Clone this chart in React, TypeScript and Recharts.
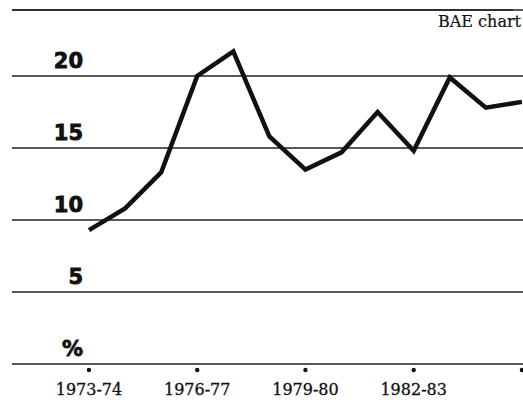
import React from "react";
import { LineChart, Line, XAxis, YAxis, CartesianGrid, ReferenceLine } from "recharts";

const years = [
  "1973-74", "1974-75", "1975-76", "1976-77", "1977-78", "1978-79", "1979-80",
  "1980-81", "1981-82", "1982-83", "1983-84", "1984-85", "1985-86",
];
const values = [9.3, 10.8, 13.3, 20.0, 21.7, 15.8, 13.5, 14.7, 17.5, 14.8, 19.9, 17.8, 18.2];
const xTickIndexes = [0, 3, 6, 9, 12];
const labelledXTicks = ["1973-74", "1976-77", "1979-80", "1982-83"];
const yTicks = [0, 5, 10, 15, 20];
const yTickLabels = ["%", "5", "10", "15", "20"];

const data = years.map((y, i) => ({ i, year: y, value: values[i] }));

const X_MIN = -2.134;
const X_MAX = 12.03;
const Y_MAX = 24.58;

const XTick = (props: any) => {
  const { x, y, payload } = props;
  const label = years[payload.value];
  const show = labelledXTicks.includes(label);
  return (
    <g>
      <circle cx={x} cy={y + 6} r={2.2} fill="#111" />
      {show && (
        <text x={x} y={y + 31} textAnchor="middle" fontFamily="DejaVu Serif" fontSize={16} fill="#111" stroke="#111" strokeWidth={0.3}>
          {label}
        </text>
      )}
    </g>
  );
};

const YTick = (props: any) => {
  const { y, payload } = props;
  const idx = yTicks.indexOf(payload.value);
  return (
    <text x={83} y={y - 8} textAnchor="end" fontFamily="DejaVu Sans" fontWeight="bold" fontSize={21} fill="#111" stroke="#111" strokeWidth={0.8}>
      {yTickLabels[idx]}
    </text>
  );
};

export default function App() {
  return (
    <div style={{ position: "absolute", left: 0, top: 0, width: 523, height: 417, background: "#fff" }}>
      <LineChart width={523} height={417} data={data} margin={{ top: 10, right: 0, bottom: 0, left: 0 }}>
        <CartesianGrid horizontal vertical={false} stroke="#222" strokeWidth={1.6} />
        <XAxis
          type="number"
          dataKey="i"
          domain={[X_MIN, X_MAX]}
          ticks={xTickIndexes}
          interval={0}
          axisLine={false}
          tickLine={false}
          tickSize={0}
          tickMargin={0}
          height={53}
          tick={<XTick />}
        />
        <YAxis
          type="number"
          domain={[0, Y_MAX]}
          ticks={yTicks}
          interval={0}
          width={12}
          axisLine={false}
          tickLine={false}
          tick={<YTick />}
        />
        <ReferenceLine
          segment={[{ x: X_MIN, y: Y_MAX }, { x: 11.75, y: Y_MAX }]}
          stroke="#222"
          strokeWidth={1.6}
          ifOverflow="visible"
        />
        <Line
          type="linear"
          dataKey="value"
          stroke="#111"
          strokeWidth={4.5}
          strokeLinejoin="miter"
          dot={false}
          isAnimationActive={false}
        />
      </LineChart>
      <svg width={523} height={40} style={{ position: "absolute", left: 0, top: 0, pointerEvents: "none" }}>
        <text x={521} y={27} textAnchor="end" fontFamily="DejaVu Serif" fontSize={16} fill="#111" stroke="#111" strokeWidth={0.2}>
          BAE chart
        </text>
      </svg>
    </div>
  );
}
